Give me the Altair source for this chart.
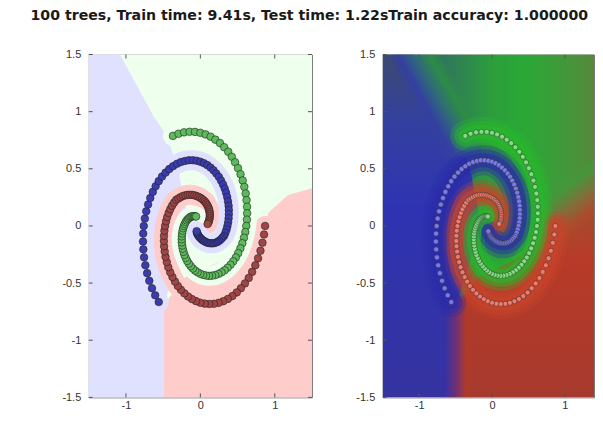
import altair as alt
import pandas as pd

TITLE = "100 trees, Train time: 9.41s, Test time: 1.22sTrain accuracy: 1.000000"

# spiral arms, outer end first
RED_X = [0.870, 0.856, 0.835, 0.808, 0.776, 0.739, 0.696, 0.650, 0.599, 0.545, 0.489, 0.430, 0.369, 0.307, 0.245, 0.182, 0.120, 0.060, 0.000, -0.058, -0.113, -0.165, -0.215, -0.261, -0.303, -0.341, -0.375, -0.405, -0.431, -0.451, -0.468, -0.479, -0.487, -0.490, -0.488, -0.483, -0.474, -0.461, -0.445, -0.426, -0.404, -0.380, -0.353, -0.325, -0.296, -0.265, -0.234, -0.202, -0.171, -0.140, -0.109, -0.080, -0.052, -0.025, 0.000, 0.023, 0.044, 0.063, 0.079, 0.093, 0.105, 0.114, 0.121, 0.125, 0.127, 0.127, 0.125, 0.121, 0.115, 0.107, 0.098]
RED_Y = [0.000, -0.075, -0.147, -0.217, -0.283, -0.344, -0.402, -0.455, -0.503, -0.545, -0.582, -0.614, -0.639, -0.659, -0.673, -0.681, -0.683, -0.680, -0.672, -0.658, -0.640, -0.617, -0.590, -0.559, -0.525, -0.487, -0.447, -0.405, -0.361, -0.316, -0.270, -0.224, -0.177, -0.131, -0.086, -0.042, 0.000, 0.040, 0.078, 0.114, 0.147, 0.177, 0.204, 0.228, 0.240, 0.252, 0.262, 0.268, 0.272, 0.273, 0.272, 0.268, 0.262, 0.255, 0.246, 0.236, 0.224, 0.212, 0.198, 0.183, 0.168, 0.152, 0.136, 0.120, 0.104, 0.089, 0.072, 0.056, 0.042, 0.029, 0.017]

GREEN_X = [-0.368, -0.294, -0.219, -0.145, -0.072, 0.000, 0.070, 0.138, 0.202, 0.264, 0.321, 0.375, 0.423, 0.467, 0.506, 0.540, 0.569, 0.591, 0.609, 0.621, 0.628, 0.629, 0.626, 0.617, 0.604, 0.586, 0.564, 0.538, 0.509, 0.477, 0.442, 0.405, 0.366, 0.326, 0.285, 0.243, 0.200, 0.158, 0.117, 0.077, 0.037, 0.000, -0.036, -0.069, -0.100, -0.128, -0.154, -0.177, -0.196, -0.213, -0.226, -0.237, -0.244, -0.249, -0.250, -0.249, -0.245, -0.239, -0.231, -0.221, -0.209, -0.196, -0.182, -0.166, -0.150, -0.134, -0.118, -0.102, -0.086, -0.071, -0.057]
GREEN_Y = [0.788, 0.807, 0.819, 0.824, 0.823, 0.815, 0.801, 0.781, 0.755, 0.725, 0.689, 0.649, 0.605, 0.557, 0.506, 0.453, 0.398, 0.342, 0.284, 0.226, 0.168, 0.111, 0.055, 0.000, -0.053, -0.103, -0.151, -0.196, -0.238, -0.276, -0.310, -0.340, -0.366, -0.388, -0.406, -0.420, -0.430, -0.435, -0.437, -0.434, -0.428, -0.419, -0.406, -0.391, -0.373, -0.352, -0.330, -0.306, -0.280, -0.254, -0.226, -0.199, -0.171, -0.144, -0.117, -0.091, -0.066, -0.042, -0.020, 0.000, 0.018, 0.035, 0.049, 0.061, 0.070, 0.078, 0.083, 0.085, 0.086, 0.085, 0.082]

BLUE_X = [-0.559, -0.607, -0.650, -0.686, -0.715, -0.739, -0.756, -0.766, -0.770, -0.768, -0.760, -0.746, -0.727, -0.702, -0.673, -0.639, -0.601, -0.560, -0.515, -0.467, -0.418, -0.367, -0.314, -0.261, -0.207, -0.154, -0.101, -0.050, 0.000, 0.048, 0.094, 0.137, 0.177, 0.214, 0.248, 0.278, 0.305, 0.327, 0.346, 0.361, 0.372, 0.380, 0.383, 0.383, 0.380, 0.374, 0.364, 0.352, 0.337, 0.320, 0.301, 0.280, 0.258, 0.235, 0.211, 0.187, 0.163, 0.139, 0.116, 0.093, 0.072, 0.052, 0.033, 0.015, 0.000, -0.014, -0.025, -0.034, -0.042, -0.047, -0.050]
BLUE_Y = [-0.666, -0.607, -0.545, -0.480, -0.413, -0.344, -0.275, -0.205, -0.136, -0.067, 0.000, 0.065, 0.128, 0.188, 0.245, 0.298, 0.347, 0.392, 0.432, 0.467, 0.498, 0.523, 0.544, 0.559, 0.569, 0.575, 0.575, 0.571, 0.562, 0.549, 0.532, 0.511, 0.487, 0.459, 0.430, 0.397, 0.363, 0.327, 0.291, 0.253, 0.215, 0.177, 0.140, 0.103, 0.067, 0.033, 0.000, -0.031, -0.059, -0.086, -0.100, -0.115, -0.128, -0.138, -0.145, -0.150, -0.152, -0.152, -0.150, -0.146, -0.140, -0.133, -0.125, -0.116, -0.106, -0.096, -0.086, -0.076, -0.066, -0.056, -0.046]

# decision-region boundaries
BLUE_EDGE_Y = [1.5, 0.96, 0.79, 0.5, 0.0, -0.69, -1.5]
BLUE_EDGE_X = [-1.08, -0.63, -0.45, -0.3, -0.15, -0.49, -0.49]
RED_EDGE_X = [-0.49, -0.2, 0.3, 0.6, 0.86, 0.92, 1.18, 1.5]
RED_EDGE_Y = [-0.69, -0.45, -0.3, -0.15, 0.0, 0.12, 0.27, 0.33]

# soft transition zones of the score image
ZONE_X0 = [-1.5, -0.75, 0.65]
ZONE_X1 = [-0.15, -0.25, 1.5]
ZONE_Y0 = [0.6, -1.5, -0.3]
ZONE_Y1 = [1.5, -0.62, 0.65]

X_TICKS = [-1, 0, 1]
Y_TICKS = [-1.5, -1, -0.5, 0, 0.5, 1, 1.5]
DOMAIN = [-1.5, 1.5]
R_XDOMAIN = [-1.5, 1.4]   # the right panel is cut at the picture's right edge
CLASSES = ["red", "green", "blue"]

LW, RW, H = 224, 212, 344
FONT = "Liberation Sans"

rows = []
for cls, xs, ys in (("red", RED_X, RED_Y), ("green", GREEN_X, GREEN_Y), ("blue", BLUE_X, BLUE_Y)):
    for i, (x, y) in enumerate(zip(xs, ys)):
        rows.append({"x": x, "y": y, "cls": cls, "i": i})
pts = pd.DataFrame(rows)

blue_edge = pd.DataFrame({"x": BLUE_EDGE_X, "y": BLUE_EDGE_Y, "x0": DOMAIN[0]})
red_edge = pd.DataFrame({"x": RED_EDGE_X, "y": RED_EDGE_Y, "y0": DOMAIN[0]})
bg = pd.DataFrame({"x": [DOMAIN[0]], "x2": [DOMAIN[1]], "y": [DOMAIN[0]], "y2": [DOMAIN[1]]})
zones = [pd.DataFrame({"x": [a], "x2": [b], "y": [c], "y2": [d]})
         for a, b, c, d in zip(ZONE_X0, ZONE_X1, ZONE_Y0, ZONE_Y1)]
xt = pd.DataFrame({"x": X_TICKS})
yt = pd.DataFrame({"y": Y_TICKS})

AX_X = alt.Axis(values=X_TICKS, labelExpr="'' + datum.value", ticks=False, domain=False,
                grid=False, labelPadding=2, labelFontSize=11, labelColor="#333",
                labelFont=FONT, title=None)
AX_Y = alt.Axis(values=Y_TICKS, labelExpr="'' + datum.value", ticks=False, domain=False,
                grid=False, labelPadding=8, labelFontSize=11, labelColor="#333",
                labelFont=FONT, title=None)
SC = alt.Scale(domain=DOMAIN, nice=False, zero=False, padding=0)
SC_R = alt.Scale(domain=R_XDOMAIN, nice=False, zero=False, padding=0)


def make_enc(xscale):
    def X(f="x"):
        return alt.X(f"{f}:Q", scale=xscale, axis=AX_X)

    def Y(f="y"):
        return alt.Y(f"{f}:Q", scale=SC, axis=AX_Y)
    return X, Y


def grad(stops, x1=0, y1=0, x2=1, y2=0):
    return alt.Gradient(
        gradient="linear",
        stops=[alt.GradientStop(offset=o, color=c) for o, c in stops],
        x1=x1, y1=y1, x2=x2, y2=y2,
    )


def tick_layers(X, Y, width, right_side=True):
    c = "#555"
    out = [
        alt.Chart(xt).mark_rule(color=c).encode(x=X(), y=alt.value(H), y2=alt.value(H - 4)),
        alt.Chart(xt).mark_rule(color=c).encode(x=X(), y=alt.value(0), y2=alt.value(4)),
        alt.Chart(yt).mark_rule(color=c).encode(y=Y(), x=alt.value(0), x2=alt.value(4)),
    ]
    if right_side:
        out.append(alt.Chart(yt).mark_rule(color=c).encode(y=Y(), x=alt.value(width), x2=alt.value(width - 4)))
    return out


def band(X, Y, width, opacity, colors):
    return alt.Chart(pts).mark_line(strokeWidth=width, opacity=opacity, strokeCap="round",
                                    strokeJoin="round", clip=True).encode(
        x=X(), y=Y(), detail="cls:N", order="i:Q",
        color=alt.Color("cls:N", scale=alt.Scale(domain=CLASSES, range=colors), legend=None))


# ---------------- left panel: hard decision regions ----------------
XL, YL = make_enc(SC)
L_BG, L_BLUE, L_RED = "#EEFFEE", "#E0E0FF", "#FFCCCC"
left_layers = [
    alt.Chart(bg).mark_rect(color=L_BG).encode(x=XL(), x2="x2", y=YL(), y2="y2"),
    alt.Chart(blue_edge).mark_area(orient="horizontal", color=L_BLUE).encode(y=YL(), x=XL(), x2="x0"),
    alt.Chart(red_edge).mark_area(color=L_RED).encode(x=XL(), y=YL(), y2="y0"),
    band(XL, YL, 20, 1, [L_RED, L_BG, L_BLUE]),
    alt.Chart(pts).mark_circle(size=58, opacity=1, stroke="#222", strokeWidth=0.6).encode(
        x=XL(), y=YL(),
        fill=alt.Fill("cls:N", scale=alt.Scale(domain=CLASSES, range=["#a04545", "#5cbc5c", "#3b3bb0"]), legend=None)),
] + tick_layers(XL, YL, LW)
left = alt.layer(*left_layers).properties(width=LW, height=H)

# ---------------- right panel: soft class scores ----------------
XR, YR = make_enc(SC_R)
R_BAND = ["#c8442a", "#28b82c", "#2a2ca8"]
right_layers = [
    alt.Chart(bg).mark_rect(clip=True, color=grad([(0, "#2c4f7a"), (0.33, "#2f7f55"), (0.5, "#2c9e3c"),
                                                    (0.65, "#2aa836"), (0.85, "#44963a"), (1, "#5a853d")])).encode(
        x=XR(), x2="x2", y=YR(), y2="y2"),
    alt.Chart(red_edge).mark_area(clip=True, color=grad([(0, "#7a6a35"), (0.15, "#a8482c"), (0.35, "#b83a28"),
                                                         (1, "#a63a2e")], 0, 0, 0, 1)).encode(x=XR(), y=YR(), y2="y0"),
    alt.Chart(blue_edge).mark_area(orient="horizontal", clip=True,
                                   color=grad([(0, "#3c4a70"), (0.2, "#3440a0"), (0.45, "#2f33b2"),
                                               (1, "#3633a0")], 0, 0, 0, 1)).encode(y=YR(), x=XR(), x2="x0"),
    alt.Chart(zones[0]).mark_rect(clip=True, color=grad([(0, "rgba(52,64,160,0)"), (0.22, "rgba(52,64,160,1)"),
                                                         (0.5, "rgba(47,106,122,1)"), (0.78, "rgba(45,140,70,1)"),
                                                         (1, "rgba(45,140,70,0)")],
                                                        0.33, 0.52, 0.76, 0.27)).encode(x=XR(), x2="x2", y=YR(), y2="y2"),
    alt.Chart(zones[1]).mark_rect(clip=True, color=grad([(0, "rgba(52,50,165,0)"), (0.2, "rgba(52,50,165,1)"),
                                                         (0.5, "rgba(110,48,120,1)"), (0.8, "rgba(176,58,42,1)"),
                                                         (1, "rgba(176,58,42,0)")])).encode(x=XR(), x2="x2", y=YR(), y2="y2"),
    alt.Chart(zones[2]).mark_rect(clip=True, color=grad([(0, "rgba(70,150,58,0)"), (0.2, "rgba(70,150,58,1)"),
                                                         (0.5, "rgba(128,112,58,1)"), (0.8, "rgba(173,74,44,1)"),
                                                         (1, "rgba(173,74,44,0)")],
                                                        0.50, 0.18, 0.74, 0.72)).encode(x=XR(), x2="x2", y=YR(), y2="y2"),
    band(XR, YR, 30, 0.3, R_BAND),
    band(XR, YR, 22, 0.45, R_BAND),
    band(XR, YR, 14, 0.6, R_BAND),
    alt.Chart(pts).mark_circle(size=26, opacity=1, stroke="#2a2a2a", strokeWidth=0.5).encode(
        x=XR(), y=YR(),
        fill=alt.Fill("cls:N", scale=alt.Scale(domain=CLASSES, range=["#f07a6c", "#7ce07c", "#7a7ae8"]), legend=None)),
] + tick_layers(XR, YR, RW, right_side=False)
right = alt.layer(*right_layers).properties(width=RW, height=H)

chart = alt.hconcat(left, right, spacing=42).resolve_scale(
    x="independent", y="independent", color="independent", fill="independent"
).properties(
    title=alt.TitleParams(TITLE, fontSize=14.2, fontWeight="bold", font="DejaVu Sans", anchor="start",
                          frame="bounds", offset=25, dx=-31, color="#1a1a1a"),
    padding={"left": 22, "top": 0, "right": 0, "bottom": 0},
    background="white",
).configure_view(stroke="#777", strokeWidth=1)

chart.save("out.html", embed_options={"renderer": "svg", "actions": False})
